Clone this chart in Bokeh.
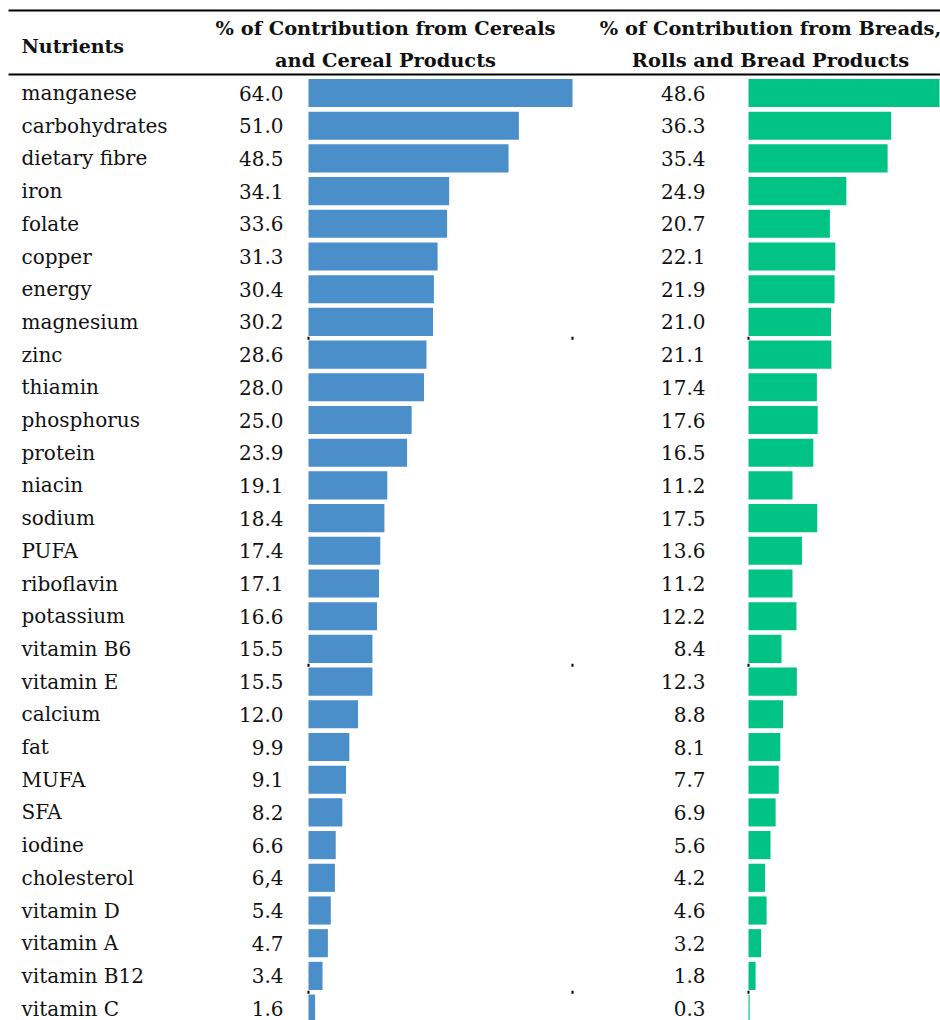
from bokeh.plotting import figure
from bokeh.models import Range1d, ColumnDataSource
from bokeh.core.properties import value
from bokeh.embed import file_html
from bokeh.resources import INLINE

nutrients = ["manganese", "carbohydrates", "dietary fibre", "iron", "folate", "copper", "energy",
             "magnesium", "zinc", "thiamin", "phosphorus", "protein", "niacin", "sodium", "PUFA",
             "riboflavin", "potassium", "vitamin B6", "vitamin E", "calcium", "fat", "MUFA", "SFA",
             "iodine", "cholesterol", "vitamin D", "vitamin A", "vitamin B12", "vitamin C"]
cereals = [64.0, 51.0, 48.5, 34.1, 33.6, 31.3, 30.4, 30.2, 28.6, 28.0, 25.0, 23.9, 19.1, 18.4, 17.4,
           17.1, 16.6, 15.5, 15.5, 12.0, 9.9, 9.1, 8.2, 6.6, 6.4, 5.4, 4.7, 3.4, 1.6]
cereal_labels = ["64.0", "51.0", "48.5", "34.1", "33.6", "31.3", "30.4", "30.2", "28.6", "28.0", "25.0",
                 "23.9", "19.1", "18.4", "17.4", "17.1", "16.6", "15.5", "15.5", "12.0", "9.9", "9.1",
                 "8.2", "6.6", "6,4", "5.4", "4.7", "3.4", "1.6"]
breads = [48.6, 36.3, 35.4, 24.9, 20.7, 22.1, 21.9, 21.0, 21.1, 17.4, 17.6, 16.5, 11.2, 17.5, 13.6,
          11.2, 12.2, 8.4, 12.3, 8.8, 8.1, 7.7, 6.9, 5.6, 4.2, 4.6, 3.2, 1.8, 0.3]
bread_labels = [f"{v:.1f}" for v in breads]
header_col1 = ["% of Contribution from Cereals", "and Cereal Products"]
header_col2 = ["% of Contribution from Breads,", "Rolls and Bread Products"]

W, H = 940, 1020
ROW0, PITCH = 92.5, 32.7
FONT = "DejaVu Serif"
BLUE = "#4a8fca"
GREEN = "#00c384"

idx = list(range(len(nutrients)))
src = ColumnDataSource(dict(y=idx, name=nutrients, c=cereals, cl=cereal_labels, b=breads, bl=bread_labels))

p = figure(width=W, height=H, output_backend="svg", toolbar_location=None,
           x_range=Range1d(0, W),
           y_range=Range1d((H - ROW0) / PITCH, -ROW0 / PITCH),
           min_border=0, outline_line_color=None)
p.axis.visible = False
p.grid.visible = False
p.background_fill_color = "white"
p.border_fill_color = "white"

# pixel-space range for header
p.extra_y_ranges = {"px": Range1d(H, 0)}
# bar scales: cereals 0 -> 308px, 64 -> 572px; breads 0 -> 748px, 48.6 -> ~939px
cs = (572 - 308) / 64.0
bs = (939 - 748) / 48.6
p.extra_x_ranges = {"blue": Range1d(-308 / cs, (W - 308) / cs),
                    "green": Range1d(-748 / bs, (W - 748) / bs)}

p.hbar(y="y", left=0, right="c", height=0.86, source=src, x_range_name="blue",
       fill_color=BLUE, line_color=None)
p.hbar(y="y", left=0, right="b", height=0.86, source=src, x_range_name="green",
       fill_color=GREEN, line_color=None)

fs = "20px"
p.text(x=21, y="y", text="name", source=src, text_font=value(FONT), text_font_size=fs,
       text_align="left", text_baseline="middle", text_color="#111111")
p.text(x=283, y="y", text="cl", source=src, text_font=value(FONT), text_font_size=fs,
       text_align="right", text_baseline="middle", text_color="#111111")
p.text(x=705, y="y", text="bl", source=src, text_font=value(FONT), text_font_size=fs,
       text_align="right", text_baseline="middle", text_color="#111111")

# header
hfs = "19.4px"
p.text(x=[21], y=[45], text=["Nutrients"], y_range_name="px", text_font=value(FONT),
       text_font_size="19px", text_font_style="bold", text_align="left", text_baseline="middle",
       text_color="#111111")
p.text(x=[385, 385], y=[28, 60], text=header_col1, y_range_name="px", text_font=value(FONT),
       text_font_size=hfs, text_font_style="bold", text_align="center", text_baseline="middle",
       text_color="#111111")
p.text(x=[770, 770], y=[28, 60], text=header_col2, y_range_name="px", text_font=value(FONT),
       text_font_size=hfs, text_font_style="bold", text_align="center", text_baseline="middle",
       text_color="#111111")

# rules
p.segment(x0=[8, 8], x1=[W, W], y0=[10, 74], y1=[10, 74], y_range_name="px",
          line_color="black", line_width=2)

# small axis tick marks every 10 categories
tick_y = [7.5, 17.5, 27.5]
p.rect(x=[0] * 3, y=tick_y, width=2, height=3, width_units="screen", height_units="screen",
       x_range_name="blue", fill_color="black", line_color=None)
p.rect(x=[64] * 3, y=tick_y, width=2, height=3, width_units="screen", height_units="screen",
       x_range_name="blue", fill_color="black", line_color=None)
p.rect(x=[0] * 3, y=tick_y, width=2, height=3, width_units="screen", height_units="screen",
       x_range_name="green", fill_color="black", line_color=None)

open("out.html", "w").write(file_html(p, INLINE))
